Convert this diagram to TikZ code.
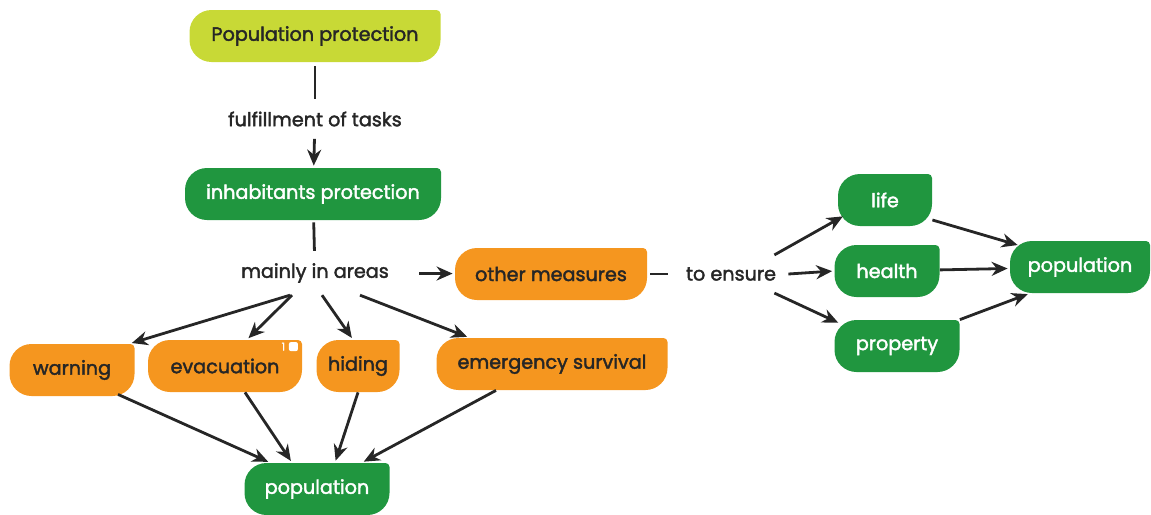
\documentclass[tikz,border=0pt]{standalone}
\usepackage{fontspec}
\setmainfont{Poppins}[RawFeature={embolden=2}]
\usetikzlibrary{positioning,arrows.meta}

\definecolor{limeg}{HTML}{C8D936}
\definecolor{leaf}{HTML}{20963F}
\definecolor{amber}{HTML}{F5961F}
\definecolor{ink}{HTML}{262626}

\tikzset{
  tab/.style={minimum height=26pt, inner sep=0pt,
    path picture={\fill[#1] ([xshift=11pt]path picture bounding box.south west)
      -- ([xshift=-11pt]path picture bounding box.south east) arc[start angle=-90,delta angle=90,radius=11pt]
      -- ([yshift=-2pt]path picture bounding box.north east) arc[start angle=0,delta angle=90,radius=2pt]
      -- ([xshift=11pt]path picture bounding box.north west) arc[start angle=90,delta angle=90,radius=11pt]
      -- ([yshift=11pt]path picture bounding box.south west) arc[start angle=180,delta angle=90,radius=11pt]
      -- cycle;}},
  ybox/.style={tab=limeg, text=ink},
  gbox/.style={tab=leaf, text=white},
  obox/.style={tab=amber, text=ink},
  lbl/.style={text=ink, inner sep=6pt},
  line/.style={draw=ink, line width=1.4pt},
  arrow/.style={line, -{Stealth[length=8pt,width=7pt]}, shorten >=1pt}
}

\begin{document}
\begin{tikzpicture}[x=0.5pt,y=-0.5pt,font=\fontsize{9.6}{12}\selectfont]
    \useasboundingbox (0,0) rectangle (1151,514);

    \node[ybox,minimum width=125.5pt] (protect) at (315,36) {Population protection};
    \node[lbl] (tasks) at (315,119) {fulfillment of tasks};
    \node[gbox,minimum width=128pt] (inhab) at (313,194) {inhabitants protection};
    \node[lbl] (areas) at (315,273) {mainly in areas};
    \node[obox,minimum width=96pt] (other) at (551,274) {other measures};
    \node[lbl] (ensure) at (731,274) {to ensure};

    \node[gbox,minimum width=47pt] (life) at (885,200) {life};
    \node[gbox,minimum width=52.5pt] (health) at (887,271) {health};
    \node[gbox,minimum width=62.5pt] (property) at (897,346) {property};
    \node[gbox,minimum width=70pt] (popright) at (1080,267) {population};

    \node[obox,minimum width=62.5pt] (warning) at (72,370) {warning};
    \node[obox,minimum width=77pt] (evac) at (225,366) {evacuation};
    \node[obox,minimum width=41.5pt] (hiding) at (358,366) {hiding};
    \node[obox,minimum width=115.5pt] (survival) at (552,364) {emergency survival};
    \node[gbox,minimum width=72.5pt] (popbottom) at (317,489) {population};

    % note marker on evacuation
    \node[text=white,inner sep=0pt,font=\fontsize{5.5}{5.5}\selectfont] (evacnum) at ([xshift=-9.5pt,yshift=-3.5pt]evac.north east) {1};
    \node[fill=white,rounded corners=1pt,minimum size=4.5pt,inner sep=0pt] (evacnote) at ([xshift=-4.5pt,yshift=-3.5pt]evac.north east) {};

    \draw[line,shorten <=2pt] (protect) -- (tasks);
    \draw[arrow] (tasks) -- (inhab);
    \draw[line,shorten <=1pt] (inhab) -- (areas);
    \draw[arrow,shorten <=9pt] (areas) -- (other);
    \draw[line,shorten <=1.5pt,shorten >=3pt] (other) -- (ensure);

    \draw[arrow] ([xshift=-7pt]ensure.north east) -- ([xshift=3.5pt,yshift=5.5pt]life.south west);
    \draw[arrow] (ensure.east) -- (health.west);
    \draw[arrow] ([xshift=-7pt]ensure.south east) -- ([xshift=3pt,yshift=-2pt]property.north west);
    \draw[arrow] ([yshift=-10pt]life.east) -- ([xshift=5pt,yshift=-2.5pt]popright.north west);
    \draw[arrow] (health) -- (popright);
    \draw[arrow] (property.north east) -- ([xshift=10pt]popright.south west);

    \draw[arrow] ([xshift=-12.5pt]areas.south) -- ([xshift=-2.5pt]warning.north east);
    \draw[arrow] ([xshift=-11.5pt]areas.south) -- ([xshift=11pt]evac.north);
    \draw[arrow] ([xshift=3.5pt]areas.south) -- ([xshift=-2.5pt]hiding.north);
    \draw[arrow] ([xshift=22.5pt]areas.south) -- ([xshift=-41.5pt]survival.north);

    \draw[arrow] ([xshift=23pt,yshift=1pt]warning.south) -- ([xshift=-23.5pt]popbottom.north);
    \draw[arrow] ([xshift=10pt]evac.south) -- ([xshift=-12.5pt]popbottom.north);
    \draw[arrow] (hiding.south) -- ([xshift=9pt]popbottom.north);
    \draw[arrow] ([xshift=-28pt]survival.south) -- ([xshift=22.5pt]popbottom.north);
  \end{tikzpicture}
\end{document}
